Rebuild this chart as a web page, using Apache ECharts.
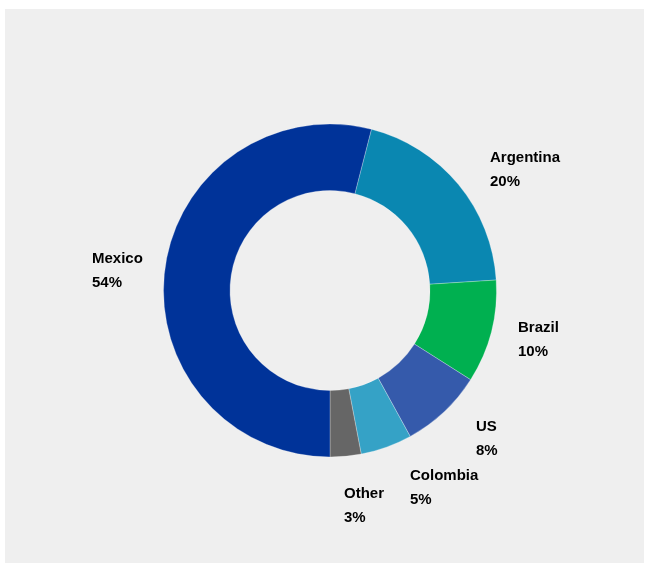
<!DOCTYPE html>
<html>
<head>
<meta charset="utf-8">
<script src="https://cdn.jsdelivr.net/npm/echarts@6/dist/echarts.min.js"></script>
<style>
  html, body { margin: 0; padding: 0; background: #ffffff; }
  #panel { position: absolute; left: 5px; top: 9px; width: 639px; height: 554px; background: #efefef; }
  #chart { position: absolute; left: 0; top: 0; width: 647px; height: 563px; }
</style>
</head>
<body>
<div id="panel"></div>
<div id="chart"></div>
<script>
// Share by country, in clockwise order starting from Argentina
const countries = ['Argentina', 'Brazil', 'US', 'Colombia', 'Other', 'Mexico'];
const shares = [20, 10, 8, 5, 3, 54];
const sliceColors = ['#0a87b1', '#00b050', '#355aab', '#35a2c6', '#666666', '#003399'];

// Top-left x and vertical centre of each two-line label block
const labelAnchors = [
  [490, 170],
  [518, 340],
  [476, 439],
  [410, 488],
  [344, 506],
  [92, 271]
];

const chart = echarts.init(document.getElementById('chart'), null, { renderer: 'canvas' });

chart.setOption({
  backgroundColor: 'transparent',
  animation: false,
  series: [{
    type: 'pie',
    center: [330, 290.5],
    radius: [100, 166.5],
    startAngle: 75.6,
    clockwise: true,
    avoidLabelOverlap: false,
    itemStyle: { borderColor: 'rgba(255,255,255,0.45)', borderWidth: 0.6 },
    label: {
      show: true,
      position: 'outside',
      formatter: p => p.name + '\n' + p.value + '%',
      fontFamily: '"Liberation Sans", Arial, sans-serif',
      fontWeight: 'bold',
      fontSize: 15,
      lineHeight: 24.5,
      color: '#000000'
    },
    labelLine: { show: false },
    labelLayout: params => ({
      x: labelAnchors[params.dataIndex][0],
      y: labelAnchors[params.dataIndex][1],
      align: 'left',
      verticalAlign: 'middle'
    }),
    emphasis: { disabled: true },
    data: countries.map((c, i) => ({
      name: c,
      value: shares[i],
      itemStyle: { color: sliceColors[i] }
    }))
  }]
});
</script>
</body>
</html>
